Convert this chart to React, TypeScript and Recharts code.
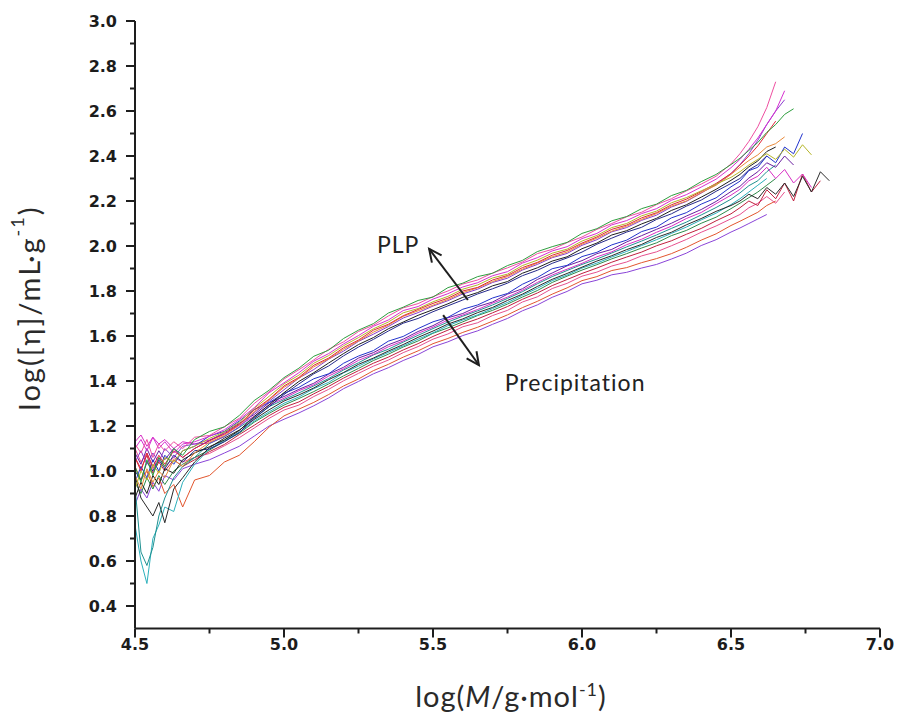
import React from 'react';
import { LineChart, Line, XAxis, YAxis, ReferenceLine, ReferenceDot } from 'recharts';

// ---------- data ----------
const LOG_M = [
  4.50, 4.52, 4.54, 4.56, 4.58, 4.60, 4.63, 4.66, 4.70,
  4.75, 4.80, 4.85, 4.90, 4.95, 5.00,
  5.05, 5.10, 5.15, 5.20, 5.25, 5.30, 5.35, 5.40, 5.45, 5.50,
  5.55, 5.60, 5.65, 5.70, 5.75, 5.80, 5.85, 5.90, 5.95, 6.00,
  6.05, 6.10, 6.15, 6.20, 6.25, 6.30, 6.35, 6.40, 6.45, 6.50,
  6.53, 6.56, 6.59, 6.62, 6.65, 6.68, 6.71, 6.74, 6.77, 6.80, 6.83,
];

// PLP samples (upper band)
const PLP_GREEN = [
  1.02, 0.95, 1.05, 0.98, 1.06, 1.02, 1.10, 1.07, 1.14,
  1.176, 1.196, 1.247, 1.313, 1.359, 1.415,
  1.457, 1.51, 1.537, 1.589, 1.626, 1.655, 1.702, 1.728, 1.758, 1.773,
  1.815, 1.835, 1.864, 1.879, 1.913, 1.936, 1.975, 1.997, 2.016, 2.056,
  2.077, 2.112, 2.131, 2.166, 2.186, 2.224, 2.247, 2.286, 2.318, 2.362,
  2.39, 2.425, 2.46, 2.505, 2.54, 2.585, 2.61,
];
const PLP_PINK = [
  1.12, 1.08, 1.14, 1.06, 1.12, 1.09, 1.13, 1.10, 1.15,
  1.158, 1.197, 1.234, 1.30, 1.352, 1.409,
  1.45, 1.494, 1.541, 1.574, 1.62, 1.648, 1.689, 1.725, 1.744, 1.775,
  1.80, 1.831, 1.849, 1.88, 1.903, 1.929, 1.966, 1.985, 2.015, 2.04,
  2.074, 2.10, 2.13, 2.15, 2.184, 2.21, 2.245, 2.275, 2.31, 2.365,
  2.41, 2.465, 2.53, 2.615, 2.73,
];
const PLP_MAGENTA = [
  1.10, 1.14, 1.09, 1.15, 1.10, 1.13, 1.08, 1.12, 1.13,
  1.154, 1.183, 1.229, 1.281, 1.348, 1.392,
  1.437, 1.488, 1.522, 1.565, 1.602, 1.643, 1.671, 1.713, 1.731, 1.764,
  1.788, 1.818, 1.837, 1.868, 1.886, 1.924, 1.948, 1.978, 1.997, 2.033,
  2.056, 2.094, 2.113, 2.144, 2.166, 2.203, 2.228, 2.262, 2.297, 2.348,
  2.385, 2.43, 2.48, 2.54, 2.60, 2.69,
];
const PLP_OLIVE = [
  0.92, 1.00, 0.96, 1.03, 0.99, 1.06, 1.04, 1.09, 1.11,
  1.145, 1.174, 1.217, 1.278, 1.332, 1.387,
  1.426, 1.479, 1.513, 1.557, 1.593, 1.632, 1.662, 1.703, 1.722, 1.752,
  1.776, 1.808, 1.827, 1.858, 1.875, 1.913, 1.937, 1.968, 1.986, 2.022,
  2.047, 2.082, 2.10, 2.134, 2.155, 2.192, 2.215, 2.245, 2.275, 2.305,
  2.33, 2.36, 2.385, 2.41, 2.385, 2.43, 2.395, 2.45, 2.405,
];
const PLP_RED = [
  1.06, 1.00, 1.08, 1.02, 1.07, 1.03, 1.09, 1.06, 1.10,
  1.134, 1.165, 1.208, 1.271, 1.319, 1.378,
  1.416, 1.47, 1.502, 1.548, 1.582, 1.626, 1.652, 1.69, 1.718, 1.745,
  1.768, 1.80, 1.816, 1.849, 1.869, 1.904, 1.927, 1.959, 1.98, 2.013,
  2.04, 2.074, 2.093, 2.125, 2.148, 2.183, 2.208, 2.242, 2.278, 2.322,
  2.36, 2.40, 2.445, 2.50, 2.555,
];
const PLP_ORANGE = [
  0.98, 0.92, 1.01, 0.95, 1.00, 0.97, 1.05, 1.02, 1.08,
  1.128, 1.158, 1.205, 1.263, 1.316, 1.372,
  1.412, 1.463, 1.498, 1.541, 1.578, 1.617, 1.648, 1.687, 1.712, 1.737,
  1.762, 1.793, 1.814, 1.842, 1.864, 1.897, 1.924, 1.952, 1.973, 2.008,
  2.035, 2.066, 2.088, 2.118, 2.144, 2.177, 2.20, 2.237, 2.27, 2.318,
  2.35, 2.38, 2.405, 2.44, 2.455, 2.485,
];
const PLP_PURPLE = [
  1.04, 1.09, 1.03, 1.08, 1.04, 1.10, 1.06, 1.11, 1.12,
  1.124, 1.153, 1.196, 1.259, 1.31, 1.361,
  1.413, 1.451, 1.497, 1.533, 1.576, 1.608, 1.642, 1.68, 1.704, 1.733,
  1.757, 1.787, 1.808, 1.838, 1.857, 1.893, 1.918, 1.948, 1.967, 2.003,
  2.028, 2.063, 2.082, 2.114, 2.137, 2.173, 2.198, 2.235, 2.274, 2.322,
  2.362, 2.41, 2.47, 2.54, 2.60, 2.65,
];
const PLP_BLACK = [
  0.88, 0.95, 0.90, 0.98, 0.94, 1.01, 0.99, 1.05, 1.08,
  1.108, 1.138, 1.18, 1.242, 1.294, 1.348,
  1.398, 1.437, 1.48, 1.522, 1.562, 1.593, 1.632, 1.662, 1.692, 1.717,
  1.743, 1.772, 1.793, 1.823, 1.842, 1.879, 1.903, 1.933, 1.952, 1.988,
  2.013, 2.049, 2.068, 2.098, 2.123, 2.158, 2.183, 2.217, 2.252, 2.292,
  2.318, 2.352, 2.378, 2.42, 2.44,
];
const PLP_NAVY = [
  1.00, 0.96, 1.04, 1.00, 1.05, 1.01, 1.07, 1.04, 1.09,
  1.098, 1.13, 1.171, 1.234, 1.286, 1.34,
  1.387, 1.432, 1.467, 1.512, 1.551, 1.585, 1.622, 1.657, 1.678, 1.708,
  1.734, 1.76, 1.787, 1.81, 1.835, 1.868, 1.892, 1.923, 1.947, 1.973,
  2.008, 2.035, 2.062, 2.083, 2.118, 2.143, 2.177, 2.204, 2.243, 2.278,
  2.30, 2.338, 2.362, 2.40,
];

// Precipitation samples (lower band)
const PREC_BLUE = [
  0.95, 1.02, 0.97, 1.05, 1.00, 1.07, 1.03, 1.09, 1.11,
  1.156, 1.176, 1.222, 1.273, 1.304, 1.345,
  1.372, 1.41, 1.432, 1.479, 1.511, 1.535, 1.577, 1.598, 1.633, 1.663,
  1.683, 1.719, 1.738, 1.769, 1.789, 1.83, 1.86, 1.899, 1.914, 1.953,
  1.972, 2.005, 2.026, 2.064, 2.084, 2.125, 2.148, 2.186, 2.214, 2.263,
  2.288, 2.335, 2.35, 2.40, 2.37, 2.44, 2.41, 2.50,
];
const PREC_PURPLE = [
  1.08, 1.03, 1.10, 1.04, 1.09, 1.05, 1.10, 1.06, 1.10,
  1.136, 1.17, 1.212, 1.251, 1.303, 1.331,
  1.363, 1.39, 1.431, 1.461, 1.502, 1.526, 1.561, 1.586, 1.62, 1.646,
  1.681, 1.70, 1.731, 1.751, 1.786, 1.81, 1.851, 1.88, 1.912, 1.935,
  1.966, 1.985, 2.018, 2.046, 2.074, 2.101, 2.133, 2.162, 2.198, 2.242,
  2.265, 2.302, 2.33, 2.37, 2.35, 2.40, 2.36,
];
const PREC_MAGENTA = [
  1.13, 1.16, 1.11, 1.15, 1.12, 1.14, 1.10, 1.13, 1.12,
  1.138, 1.163, 1.203, 1.243, 1.293, 1.323,
  1.357, 1.383, 1.422, 1.454, 1.492, 1.518, 1.552, 1.578, 1.612, 1.639,
  1.671, 1.693, 1.718, 1.746, 1.773, 1.803, 1.838, 1.871, 1.897, 1.923,
  1.952, 1.974, 2.006, 2.03, 2.061, 2.088, 2.122, 2.149, 2.188, 2.226,
  2.252, 2.29, 2.31, 2.35, 2.30, 2.34, 2.28, 2.32, 2.26,
];
const PREC_TEAL = [
  0.93, 0.64, 0.58, 0.66, 0.80, 0.88, 0.97, 1.02, 1.06,
  1.122, 1.153, 1.194, 1.237, 1.286, 1.317,
  1.347, 1.378, 1.411, 1.449, 1.481, 1.516, 1.541, 1.573, 1.603, 1.633,
  1.662, 1.688, 1.712, 1.738, 1.767, 1.797, 1.832, 1.864, 1.891, 1.918,
  1.942, 1.969, 1.996, 2.022, 2.049, 2.078, 2.106, 2.138, 2.171, 2.208,
  2.236, 2.268, 2.29, 2.33, 2.36,
];
const PREC_BLACK = [
  0.98, 0.88, 0.84, 0.80, 0.86, 0.77, 0.92, 0.97, 1.04,
  1.104, 1.146, 1.182, 1.229, 1.272, 1.311,
  1.338, 1.369, 1.406, 1.438, 1.474, 1.502, 1.533, 1.562, 1.594, 1.622,
  1.653, 1.676, 1.704, 1.727, 1.758, 1.786, 1.82, 1.852, 1.878, 1.906,
  1.933, 1.957, 1.984, 2.007, 2.038, 2.061, 2.094, 2.122, 2.154, 2.18,
  2.20, 2.23, 2.21, 2.26, 2.23, 2.28, 2.22, 2.31, 2.24, 2.33, 2.29,
];
const PREC_CYAN = [
  0.76, 0.60, 0.50, 0.70, 0.76, 0.84, 0.82, 0.95, 1.03,
  1.098, 1.137, 1.173, 1.222, 1.263, 1.301,
  1.329, 1.366, 1.394, 1.436, 1.466, 1.498, 1.527, 1.556, 1.586, 1.614,
  1.646, 1.671, 1.694, 1.722, 1.749, 1.781, 1.812, 1.846, 1.871, 1.902,
  1.924, 1.951, 1.976, 2.002, 2.028, 2.056, 2.084, 2.116, 2.146, 2.184,
  2.21, 2.24, 2.27, 2.30,
];
const PREC_GREEN = [
  0.95, 0.90, 0.97, 0.92, 0.98, 0.94, 1.00, 1.03, 1.06,
  1.093, 1.132, 1.168, 1.217, 1.256, 1.293,
  1.322, 1.353, 1.387, 1.423, 1.456, 1.491, 1.519, 1.551, 1.578, 1.612,
  1.636, 1.663, 1.691, 1.714, 1.742, 1.773, 1.802, 1.838, 1.866, 1.893,
  1.917, 1.943, 1.966, 1.991, 2.014, 2.046, 2.069, 2.101, 2.128, 2.166,
  2.19, 2.215, 2.24, 2.27, 2.30,
];
const PREC_WINE = [
  1.06, 1.01, 1.07, 0.99, 1.04, 1.00, 1.05, 1.02, 1.05,
  1.086, 1.118, 1.162, 1.203, 1.246, 1.283,
  1.307, 1.343, 1.376, 1.413, 1.446, 1.479, 1.506, 1.538, 1.566, 1.598,
  1.626, 1.653, 1.676, 1.703, 1.731, 1.763, 1.791, 1.824, 1.851, 1.878,
  1.902, 1.928, 1.951, 1.973, 2.001, 2.023, 2.052, 2.078, 2.112, 2.143,
  2.17, 2.20, 2.18, 2.25, 2.21, 2.28, 2.20, 2.32, 2.24, 2.29,
];
const PREC_PINK = [
  1.10, 1.04, 1.08, 1.01, 1.06, 1.02, 1.06, 1.04, 1.06,
  1.078, 1.112, 1.148, 1.191, 1.234, 1.271,
  1.293, 1.331, 1.363, 1.401, 1.434, 1.466, 1.493, 1.526, 1.553, 1.586,
  1.609, 1.641, 1.659, 1.691, 1.714, 1.751, 1.774, 1.811, 1.834, 1.866,
  1.884, 1.911, 1.929, 1.956, 1.974, 2.001, 2.029, 2.061, 2.089, 2.121,
  2.14, 2.17, 2.19, 2.22, 2.19, 2.24,
];
const PREC_ORANGE = [
  1.02, 0.96, 1.00, 0.93, 0.97, 0.90, 0.94, 0.84, 0.96,
  0.98, 1.04, 1.07, 1.13, 1.195, 1.245,
  1.275, 1.305, 1.34, 1.378, 1.409, 1.446, 1.474, 1.506, 1.534, 1.566,
  1.589, 1.616, 1.639, 1.666, 1.694, 1.726, 1.754, 1.786, 1.814, 1.846,
  1.864, 1.891, 1.904, 1.926, 1.944, 1.966, 1.994, 2.026, 2.054, 2.091,
  2.11, 2.13, 2.15, 2.18, 2.20,
];
const PREC_VIOLET = [
  0.85, 0.92, 0.88, 0.95, 0.91, 0.98, 0.96, 1.01, 1.03,
  1.05, 1.08, 1.11, 1.155, 1.20, 1.23,
  1.258, 1.29, 1.325, 1.366, 1.398, 1.432, 1.459, 1.491, 1.518, 1.552,
  1.574, 1.602, 1.623, 1.652, 1.678, 1.712, 1.738, 1.772, 1.798, 1.832,
  1.848, 1.872, 1.883, 1.902, 1.918, 1.942, 1.968, 2.002, 2.028, 2.062,
  2.08, 2.10, 2.12, 2.14,
];

const Y_TICKS = [0.4, 0.5, 0.6, 0.7, 0.8, 0.9, 1.0, 1.1, 1.2, 1.3, 1.4, 1.5, 1.6, 1.7, 1.8, 1.9, 2.0, 2.1, 2.2, 2.3, 2.4, 2.5, 2.6, 2.7, 2.8, 2.9, 3.0];
const Y_LABELS = [0.4, 0.6, 0.8, 1.0, 1.2, 1.4, 1.6, 1.8, 2.0, 2.2, 2.4, 2.6, 2.8, 3.0];
const X_TICKS = [4.5, 4.75, 5.0, 5.25, 5.5, 5.75, 6.0, 6.25, 6.5, 6.75, 7.0];
const X_LABELS = [4.5, 5.0, 5.5, 6.0, 6.5, 7.0];

const ANNOTATIONS = [
  { text: 'PLP', x: 5.383, y: 2.009, tail: { x: 5.617, y: 1.76 }, head: { x: 5.487, y: 1.987 } },
  { text: 'Precipitation', x: 5.977, y: 1.396, tail: { x: 5.534, y: 1.693 }, head: { x: 5.654, y: 1.471 } },
];

// ---------- styling ----------
const SERIES = [
  { key: 'prec-violet', values: PREC_VIOLET, color: '#8a44d8' },
  { key: 'prec-orange', values: PREC_ORANGE, color: '#e2562e' },
  { key: 'prec-pink', values: PREC_PINK, color: '#e6508e' },
  { key: 'prec-wine', values: PREC_WINE, color: '#c0203f' },
  { key: 'prec-green', values: PREC_GREEN, color: '#2f8a4a' },
  { key: 'prec-cyan', values: PREC_CYAN, color: '#2bb0bb' },
  { key: 'prec-black', values: PREC_BLACK, color: '#2a2a2a' },
  { key: 'prec-teal', values: PREC_TEAL, color: '#1f9090' },
  { key: 'prec-magenta', values: PREC_MAGENTA, color: '#d82fc4' },
  { key: 'prec-purple', values: PREC_PURPLE, color: '#6a1fa0' },
  { key: 'prec-blue', values: PREC_BLUE, color: '#2233cc' },
  { key: 'plp-navy', values: PLP_NAVY, color: '#262a8c' },
  { key: 'plp-black', values: PLP_BLACK, color: '#1e1e1e' },
  { key: 'plp-purple', values: PLP_PURPLE, color: '#8c3ccf' },
  { key: 'plp-orange', values: PLP_ORANGE, color: '#e88a3a' },
  { key: 'plp-red', values: PLP_RED, color: '#e0283a' },
  { key: 'plp-olive', values: PLP_OLIVE, color: '#b5b52a' },
  { key: 'plp-magenta', values: PLP_MAGENTA, color: '#d630d0' },
  { key: 'plp-pink', values: PLP_PINK, color: '#ee4fa0' },
  { key: 'plp-green', values: PLP_GREEN, color: '#2e9e3e' },
];

const AXIS = '#1e1e1e';
const TICK_FONT = { fontFamily: 'DejaVu Sans', fontWeight: 700, fontSize: 16, fill: '#1c1c1c' };
const TITLE_FONT = { fontFamily: 'Lato', fontSize: 29, fill: '#2a2a2a' };

const near = (list: number[], v: number) => list.some((t) => Math.abs(t - v) < 1e-6);

const YTick = (props: any) => {
  const { x, y, payload } = props;
  const v = payload.value;
  const major = near(Y_LABELS, v);
  return (
    <g>
      <line x1={x - (major ? 9 : 5)} y1={y} x2={x} y2={y} stroke={AXIS} strokeWidth={2} />
      {major && (
        <text x={x - 18} y={y} dy="0.36em" textAnchor="end" {...TICK_FONT}>
          {v.toFixed(1)}
        </text>
      )}
    </g>
  );
};

const XTick = (props: any) => {
  const { x, y, payload } = props;
  const v = payload.value;
  const major = near(X_LABELS, v);
  return (
    <g>
      <line x1={x} y1={y} x2={x} y2={y + (major ? 9 : 5)} stroke={AXIS} strokeWidth={2} />
      {major && (
        <text x={x} y={y + 21} textAnchor="middle" {...TICK_FONT}>
          {v.toFixed(1)}
        </text>
      )}
    </g>
  );
};

const YTitle = () => (
  <text
    transform="translate(28,308) rotate(-90)"
    textAnchor="middle"
    dominantBaseline="central"
    letterSpacing={2}
    {...TITLE_FONT}
  >
    log([η]/mL·g<tspan dy={-11} fontSize={18}>-1</tspan>
    <tspan dy={11}>)</tspan>
  </text>
);

const XTitle = () => (
  <text x={511} y={707} textAnchor="middle" letterSpacing={1} {...TITLE_FONT}>
    log(<tspan fontStyle="italic">M</tspan>/g·mol<tspan dy={-11} fontSize={18}>-1</tspan>
    <tspan dy={11}>)</tspan>
  </text>
);

const Arrow = (props: any) => {
  const { x1, y1, x2, y2 } = props;
  const ang = Math.atan2(y2 - y1, x2 - x1);
  const L = 14;
  const a = Math.PI / 7;
  const ax = x2 - L * Math.cos(ang - a);
  const ay = y2 - L * Math.sin(ang - a);
  const bx = x2 - L * Math.cos(ang + a);
  const by = y2 - L * Math.sin(ang + a);
  return (
    <g>
      <line x1={x1} y1={y1} x2={x2} y2={y2} stroke="#1e1e1e" strokeWidth={2} />
      <polyline points={`${ax},${ay} ${x2},${y2} ${bx},${by}`} fill="none" stroke="#1e1e1e" strokeWidth={2} />
    </g>
  );
};

const makeText = (text: string) => (props: any) => (
  <text
    x={props.cx}
    y={props.cy}
    textAnchor="middle"
    dominantBaseline="central"
    fontFamily="Lato"
    fontSize={23}
    letterSpacing={1}
    fill="#222"
  >
    {text}
  </text>
);

export default function App() {
  return (
    <div style={{ position: 'absolute', left: 0, top: 0, width: 897, height: 719, background: '#fff' }}>
      <LineChart width={897} height={719} margin={{ top: 21, right: 17, bottom: 50.5, left: 75 }}>
        <XAxis
          type="number"
          dataKey="x"
          domain={[4.5, 7.0]}
          ticks={X_TICKS}
          interval={0}
          height={40}
          tickSize={0}
          tickMargin={0}
          tickLine={false}
          axisLine={{ stroke: AXIS, strokeWidth: 2 }}
          tick={<XTick />}
          allowDataOverflow
          label={{ content: () => <XTitle /> }}
        />
        <YAxis
          type="number"
          dataKey="y"
          domain={[0.3, 3.0]}
          ticks={Y_TICKS}
          interval={0}
          width={60}
          tickSize={0}
          tickMargin={0}
          tickLine={false}
          axisLine={{ stroke: AXIS, strokeWidth: 2 }}
          tick={<YTick />}
          allowDataOverflow
          label={{ content: () => <YTitle /> }}
        />
        {SERIES.map((s) => (
          <Line
            key={s.key}
            data={s.values.map((v, i) => ({ x: LOG_M[i], y: v }))}
            dataKey="y"
            type="linear"
            stroke={s.color}
            strokeWidth={1}
            dot={false}
            activeDot={false}
            isAnimationActive={false}
          />
        ))}
        {ANNOTATIONS.map((a) => (
          <ReferenceLine key={a.text + '-arrow'} segment={[a.tail, a.head]} shape={Arrow} ifOverflow="visible" />
        ))}
        {ANNOTATIONS.map((a) => (
          <ReferenceDot key={a.text + '-label'} x={a.x} y={a.y} r={0} shape={makeText(a.text)} ifOverflow="visible" />
        ))}
      </LineChart>
    </div>
  );
}
